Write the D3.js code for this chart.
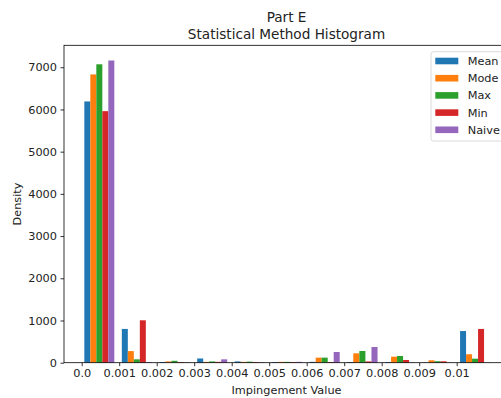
<!DOCTYPE html>
<html>
<head>
<meta charset="utf-8">
<script src="https://cdn.jsdelivr.net/npm/d3@7"></script>
<style>
  html, body { margin: 0; padding: 0; background: #fff; }
  svg { display: block; font-family: "DejaVu Sans", sans-serif; }
</style>
</head>
<body>
<svg id="chart" width="501" height="398"></svg>
<script>
// Histogram bin edges (Impingement Value)
const binEdges = [-0.00003, 0.00097, 0.00197, 0.00298, 0.00398, 0.00498,
                  0.00598, 0.00698, 0.00799, 0.00899, 0.00999, 0.01099];

// Density per bin for each statistical method
const seriesNames = ["Mean", "Mode", "Max", "Min", "Naive"];
const meanValues  = [6190,  800, 15, 100, 30, 15,  20,  15,  15,  5, 750];
const modeValues  = [6830,  275, 30,  20, 20, 20, 120, 222, 143, 57, 200];
const maxValues   = [7070,   80, 45,  30, 25, 20, 120, 277, 159, 35,  95];
const minValues   = [5960, 1005, 15,  20, 15, 15,  15,  30,  64, 33, 800];
const naiveValues = [7160,   15, 10,  80, 10, 20, 254, 372,   5,  5,   5];
const seriesValues = [meanValues, modeValues, maxValues, minValues, naiveValues];
const colors = ["#1f77b4", "#ff7f0e", "#2ca02c", "#d62728", "#9467bd"];

// Axis ticks
const xTickValues = [0, 0.001, 0.002, 0.003, 0.004, 0.005, 0.006, 0.007, 0.008, 0.009, 0.01];
const xTickLabels = ["0.0", "0.001", "0.002", "0.003", "0.004", "0.005", "0.006", "0.007", "0.008", "0.009", "0.01"];
const yTickValues = [0, 1000, 2000, 3000, 4000, 5000, 6000, 7000];

const plot = { left: 64, right: 509, top: 45.3, bottom: 362.7 };
const fontSize = 11.3;
const titleSize = 13.6;
const svg = d3.select("#chart");

const x = d3.scaleLinear().domain([-0.000472, 0.011395]).range([plot.left, plot.right]);
const y = d3.scaleLinear().domain([0, 7520]).range([plot.bottom, plot.top]);

// Bars: 80% of each bin is shared among the series
const nSeries = seriesValues.length;
const bars = [];
seriesValues.forEach((vals, s) => {
  vals.forEach((v, i) => {
    const e0 = binEdges[i], e1 = binEdges[i + 1];
    const tw = e1 - e0;
    const w = 0.8 * tw / nSeries;
    const x0 = e0 + 0.1 * tw + s * w;
    bars.push({ s, x0, x1: x0 + w, v });
  });
});

svg.append("g").selectAll("rect").data(bars).join("rect")
  .attr("x", d => x(d.x0))
  .attr("width", d => x(d.x1) - x(d.x0))
  .attr("y", d => y(d.v))
  .attr("height", d => y(0) - y(d.v))
  .attr("fill", d => colors[d.s]);

// Axes
const xAxis = d3.axisBottom(x).tickValues(xTickValues)
  .tickFormat((d, i) => xTickLabels[i]).tickSizeOuter(0).tickSize(3.5).tickPadding(3);
const yAxis = d3.axisLeft(y).tickValues(yTickValues)
  .tickFormat(d3.format("d")).tickSizeOuter(0).tickSize(3.5).tickPadding(3.5);

const gx = svg.append("g").attr("transform", `translate(0,${plot.bottom})`).call(xAxis);
const gy = svg.append("g").attr("transform", `translate(${plot.left},0)`).call(yAxis);
[gx, gy].forEach(g => {
  g.select(".domain").remove();
  g.selectAll(".tick line").attr("stroke", "#000").attr("stroke-width", 0.8);
  g.selectAll(".tick text").attr("fill", "#222").style("font-size", fontSize + "px")
    .style("font-family", "'DejaVu Sans', sans-serif");
});

// Spines
const spine = svg.append("g").attr("fill", "none").attr("stroke", "#000").attr("stroke-width", 0.8);
spine.append("rect")
  .attr("x", plot.left).attr("y", plot.top)
  .attr("width", plot.right - plot.left).attr("height", plot.bottom - plot.top);

// Axis labels
svg.append("text")
  .attr("x", (plot.left + plot.right) / 2).attr("y", 394)
  .attr("text-anchor", "middle").attr("fill", "#222").style("font-size", fontSize + "px").text("Impingement Value");
svg.append("text")
  .attr("transform", `translate(20.5,${(plot.top + plot.bottom) / 2}) rotate(-90)`)
  .attr("text-anchor", "middle").attr("fill", "#222").style("font-size", fontSize + "px").text("Density");

// Title
const title = svg.append("text").attr("text-anchor", "middle").attr("fill", "#222").style("font-size", titleSize + "px");
title.append("tspan").attr("x", (plot.left + plot.right) / 2).attr("y", 22).text("Part E");
title.append("tspan").attr("x", (plot.left + plot.right) / 2).attr("y", 38.5).text("Statistical Method Histogram");

// Legend
const legend = svg.append("g").attr("transform", "translate(431,51.7)");
legend.append("rect")
  .attr("width", 80).attr("height", 89.3).attr("rx", 2.5)
  .attr("fill", "#fff").attr("fill-opacity", 0.8)
  .attr("stroke", "#d0d0d0").attr("stroke-width", 0.8);
seriesNames.forEach((name, i) => {
  const cy = 9.3 + i * 17.2;
  legend.append("rect").attr("x", 4.3).attr("y", cy - 3.3).attr("width", 23).attr("height", 6.6)
    .attr("fill", colors[i]);
  legend.append("text").attr("x", 36.7).attr("y", cy + 4)
    .attr("fill", "#222").style("font-size", fontSize + "px").text(name);
});
</script>
</body>
</html>
